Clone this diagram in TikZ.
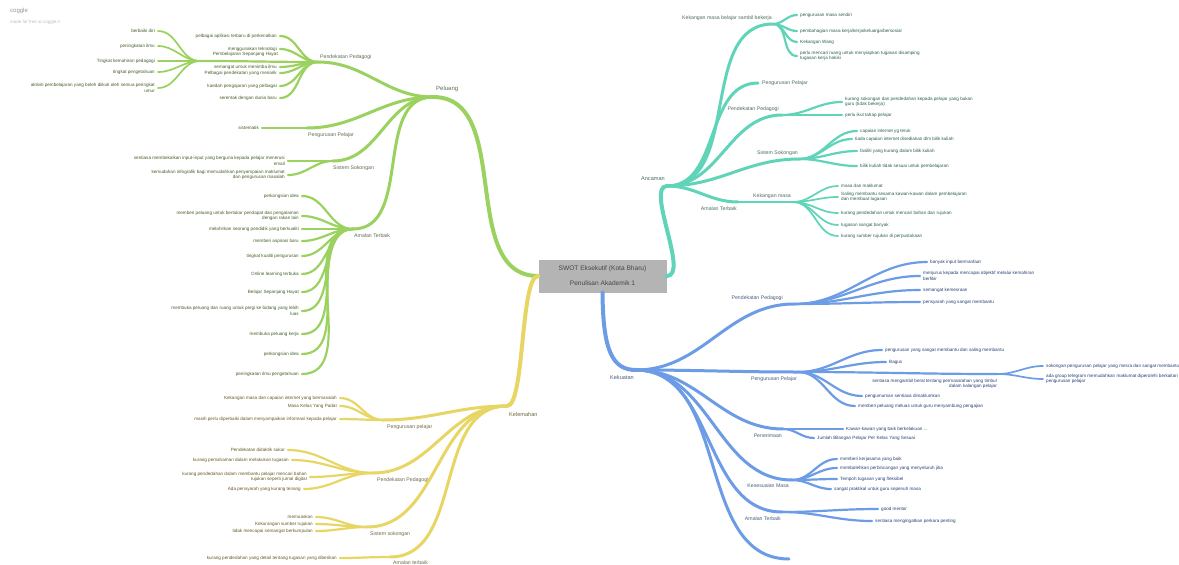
\documentclass[tikz,border=0pt]{standalone}
\usepackage{fontspec}
\setmainfont{Liberation Sans}
\definecolor{cG}{RGB}{155,210,95}
\definecolor{cGt}{RGB}{70,95,40}
\definecolor{cGh}{RGB}{95,110,80}
\definecolor{cY}{RGB}{232,214,100}
\definecolor{cYt}{RGB}{105,90,35}
\definecolor{cYh}{RGB}{115,105,70}
\definecolor{cT}{RGB}{95,212,185}
\definecolor{cTt}{RGB}{45,95,85}
\definecolor{cTh}{RGB}{80,110,100}
\definecolor{cB}{RGB}{108,156,230}
\definecolor{cBt}{RGB}{40,65,120}
\definecolor{cBh}{RGB}{75,95,130}
\definecolor{boxgray}{RGB}{180,180,180}
\tikzset{
  lf/.style={font=\fontsize{4.6}{5.5}\selectfont, inner sep=0pt},
  hl/.style={font=\fontsize{5.2}{6.2}\selectfont, inner sep=0pt},
  b1/.style={line width=4pt, line cap=round},
  b2/.style={line width=3pt, line cap=round},
  b3/.style={line width=2.2pt, line cap=round},
  b4/.style={line width=1.7pt, line cap=round},
  rootbox/.style={fill=boxgray, minimum width=128pt, minimum height=33pt, inner sep=0pt,
    align=center, text={rgb,255:red,70;green,70;blue,70}, font=\fontsize{6.6}{8}\selectfont},
}
\newcommand\LL[7]{%
  \coordinate (#2) at (#3,#4);
  \draw[#7,draw=c#6] (#1) to[out=180,in=0] (#2);
  \node[lf,text=c#6t,anchor=east,align=right] (#2t) at ([xshift=-3pt]#2) {#5};
}
\newcommand\RL[7]{%
  \coordinate (#2) at (#3,#4);
  \draw[#7,draw=c#6] (#1) to[out=0,in=180] (#2);
  \node[lf,text=c#6t,anchor=west,align=left] (#2t) at ([xshift=3pt]#2) {#5};
}
\begin{document}
\begin{tikzpicture}[x=1pt,y=-1pt]
\useasboundingbox (0,0) rectangle (1179,565);
\fill[white] (0,0) rectangle (1179,565);
\node[anchor=west,inner sep=0pt,text={rgb,255:red,150;green,150;blue,150},font=\fontsize{6}{7}\selectfont] (cog) at (10,11) {coggle};
\node[anchor=west,inner sep=0pt,text={rgb,255:red,190;green,190;blue,190},font=\fontsize{4.5}{5}\selectfont] (cogm) at (10,22) {made for free at coggle.it};

\node[rootbox] (root) at (602.5,276) {SWOT Eksekutif (Kota Bharu)\\[7pt]Penulisan Akademik 1};

% ================= GREEN : Peluang =================
\coordinate (gP) at (433,97);
\draw[b1,draw=cG] (root.west) to[out=180,in=0] (gP);
\node[hl,anchor=west,text=cGh,font=\fontsize{6}{7}\selectfont] (gPt) at (436,89) {Peluang};

\coordinate (gPP) at (318,62);
\draw[b2,draw=cG] (gP) to[out=180,in=0] (gPP);
\node[hl,anchor=west,text=cGh] (gPPt) at (320,57) {Pendekatan Pedagogi};
\LL{gPP}{g1}{280}{36}{pelbagai aplikasi terbaru di perkenalkan}{G}{b3}
\LL{gPP}{g2}{280}{49}{menggunakan teknologi}{G}{b3}
\LL{gPP}{g3}{280}{67}{semangat untuk menimba ilmu}{G}{b3}
\LL{gPP}{g4}{280}{73}{Pelbagai pendekatan yang menarik}{G}{b3}
\LL{gPP}{g5}{280}{86}{kaedah pengajaran yang pelbagai}{G}{b3}
\LL{gPP}{g6}{280}{98}{serentak dengan dunia baru}{G}{b3}
\coordinate (gSH) at (200,61);
\draw[b3,draw=cG] (gPP) to[out=180,in=0] (gSH);
\node[lf,anchor=east,text=cGt] (gSHt) at (278,54) {Pembelajaran Sepanjang Hayat};
\LL{gSH}{g7}{158}{31}{berbaiki diri}{G}{b4}
\LL{gSH}{g8}{158}{46}{peningkatan ilmu}{G}{b4}
\LL{gSH}{g9}{158}{61}{Tingkat kemahiran pedagogi}{G}{b4}
\LL{gSH}{g10}{158}{72}{tingkat pengetahuan}{G}{b4}
\LL{gSH}{g11}{158}{88}{aktiviti pembelajaran yang boleh diikuti oleh semua peringkat\\umur}{G}{b4}

\coordinate (gPL) at (307,128);
\draw[b2,draw=cG] (gP) to[out=180,in=0] (gPL);
\node[hl,anchor=west,text=cGh] (gPLt) at (308,135) {Pengurusan Pelajar};
\LL{gPL}{g12}{262}{128}{sistematik}{G}{b3}

\coordinate (gSS) at (333,161);
\draw[b2,draw=cG] (gP) to[out=180,in=0] (gSS);
\node[hl,anchor=west,text=cGh] (gSSt) at (333,168) {Sistem Sokongan};
\LL{gSS}{g13}{288}{161}{sentiasa membekalkan input-input yang berguna kepada pelajar menerusi\\email}{G}{b3}
\LL{gSS}{g14}{288}{175}{kemudahan infografik bagi memudahkan penyampaian maklumat\\dan pengurusan masalah}{G}{b3}

\coordinate (gAT) at (353,229);
\draw[b2,draw=cG] (gP) to[out=180,in=0] (gAT);
\node[hl,anchor=west,text=cGh] (gATt) at (354,236) {Amalan Terbaik};
\LL{gAT}{g15}{302}{196}{perkongsian idea}{G}{b3}
\LL{gAT}{g16}{302}{216}{memberi peluang untuk bertukar pendapat dan pengalaman\\dengan rakan lain}{G}{b3}
\LL{gAT}{g17}{302}{229}{melahirkan seorang pendidik yang berkualiti}{G}{b3}
\LL{gAT}{g18}{302}{241}{memberi aspirasi baru}{G}{b3}
\LL{gAT}{g19}{302}{256}{tingkat kualiti pengurusan}{G}{b3}
\LL{gAT}{g20}{302}{274}{Online learning terbuka}{G}{b3}
\LL{gAT}{g21}{302}{292}{Belajar Sepanjang Hayat}{G}{b3}
\LL{gAT}{g22}{302}{311}{membuka peluang dan ruang untuk pergi ke bidang yang lebih\\luas}{G}{b3}
\LL{gAT}{g23}{302}{334}{membuka peluang kerja}{G}{b3}
\LL{gAT}{g24}{302}{354}{perkongsian idea}{G}{b3}
\LL{gAT}{g25}{302}{374}{peningkatan ilmu pengetahuan}{G}{b3}

% ================= YELLOW : Kelemahan =================
\coordinate (yK) at (507,406);
\draw[b1,draw=cY] (root.west) .. controls (520,276) and (525,406) .. (yK);
\node[hl,anchor=west,text=cYh,font=\fontsize{5.6}{6.6}\selectfont] (yKt) at (509,414) {Kelemahan};

\coordinate (yPP) at (383,420);
\draw[b2,draw=cY] (yK) to[out=180,in=0] (yPP);
\node[hl,anchor=west,text=cYh] (yPPt) at (387,427) {Pengurusan pelajar};
\LL{yPP}{y1}{340}{398}{Kekangan masa dan capaian internet yang bermasalah}{Y}{b3}
\LL{yPP}{y2}{340}{406}{Masa Kelas Yang Padat}{Y}{b3}
\LL{yPP}{y3}{340}{419}{masih perlu diperbaiki dalam menyampaikan informasi kepada pelajar}{Y}{b3}

\coordinate (yPD) at (373,473);
\draw[b2,draw=cY] (yK) to[out=180,in=0] (yPD);
\node[hl,anchor=west,text=cYh] (yPDt) at (377,480) {Pendekatan Pedagogi};
\LL{yPD}{y4}{288}{450}{Pendekatan didaktik sukar}{Y}{b3}
\LL{yPD}{y5}{292}{460}{kurang pemahaman dalam melakukan tugasan}{Y}{b3}
\LL{yPD}{y6}{310}{477}{kurang pendedahan dalam membantu pelajar mencari bahan\\rujukan seperti jurnal digital}{Y}{b3}
\LL{yPD}{y7}{304}{489}{Ada pensyarah yang kurang tenang}{Y}{b3}

\coordinate (ySS) at (367,527);
\draw[b2,draw=cY] (yK) to[out=180,in=0] (ySS);
\node[hl,anchor=west,text=cYh] (ySSt) at (370,534) {Sistem sokongan};
\LL{ySS}{y8}{316}{517}{memuaskan}{Y}{b3}
\LL{ySS}{y9}{316}{524}{Kekurangan sumber rujukan}{Y}{b3}
\LL{ySS}{y10}{316}{531}{tidak mencapai semangat berkumpulan}{Y}{b3}

\coordinate (yAT) at (390,557);
\draw[b2,draw=cY] (yK) to[out=180,in=0] (yAT);
\node[hl,anchor=west,text=cYh] (yATt) at (393,563) {Amalan terbaik};
\LL{yAT}{y11}{340}{558}{kurang pendedahan yang detail tentang tugasan yang diberikan}{Y}{b3}

% ================= TEAL : Ancaman =================
\coordinate (tA) at (667,186);
\draw[b1,draw=cT] (root.east) .. controls (690,276) and (645,186) .. (tA);
\node[hl,anchor=east,text=cTh,font=\fontsize{5.6}{6.6}\selectfont] (tAt) at (665,179) {Ancaman};

\coordinate (tK) at (773,24);
\draw[b2,draw=cT] (tA) to[out=0,in=180] (tK);
\node[hl,anchor=east,text=cTh] (tKt) at (772,18) {Kekangan masa belajar sambil bekerja};
\RL{tK}{t1}{797}{15}{pengurusan masa sendiri}{T}{b3}
\RL{tK}{t2}{797}{31}{pembahagian masa kerja/kerja/keluarga/bersosial}{T}{b3}
\RL{tK}{t3}{797}{42}{Kekangan Wang}{T}{b3}
\RL{tK}{t4}{797}{56}{perlu mencari ruang untuk menyiapkan tugasan disamping\\tugasan kerja hakiki}{T}{b3}

\coordinate (tPL) at (758,83);
\draw[b2,draw=cT] (tA) to[out=0,in=180] (tPL);
\node[hl,anchor=west,text=cTh] (tPLt) at (762,83) {Pengurusan Pelajar};

\coordinate (tPD) at (782,115);
\draw[b2,draw=cT] (tA) to[out=0,in=180] (tPD);
\node[hl,anchor=east,text=cTh] (tPDt) at (779,109) {Pendekatan Pedagogi};
\RL{tPD}{t5}{842}{102}{kurang sokongan dan pendedahan kepada pelajar yang bukan\\guru (tidak bekerja)}{T}{b3}
\RL{tPD}{t6}{842}{115}{perlu ikut tahap pelajar}{T}{b3}

\coordinate (tSS) at (799,159);
\draw[b2,draw=cT] (tA) to[out=0,in=180] (tSS);
\node[hl,anchor=east,text=cTh] (tSSt) at (798,153) {Sistem Sokongan};
\RL{tSS}{t7}{857}{131}{capaian internet yg teruk}{T}{b3}
\RL{tSS}{t8}{852}{139}{tiada capaian internet disediakan dlm bilik kuliah}{T}{b3}
\RL{tSS}{t9}{857}{151}{fasiliti yang kurang dalam bilik kuliah}{T}{b3}
\RL{tSS}{t10}{857}{166}{bilik kuliah tidak sesuai untuk pembelajaran}{T}{b3}

\coordinate (tAT) at (738,202);
\draw[b2,draw=cT] (tA) to[out=0,in=180] (tAT);
\node[hl,anchor=east,text=cTh] (tATt) at (737,209) {Amalan Terbaik};
\coordinate (tKM) at (793,202);
\draw[b3,draw=cT] (tAT) -- (tKM);
\node[hl,anchor=east,text=cTh] (tKMt) at (791,196) {Kekangan masa};
\RL{tKM}{t11}{838}{186}{masa dan maklumat}{T}{b4}
\RL{tKM}{t12}{838}{197}{Saling membantu sesama kawan-kawan dalam pembelajaran\\dan membuat tugasan}{T}{b4}
\RL{tKM}{t13}{838}{213}{kurang pendedahan untuk mencari bahan dan rujukan}{T}{b4}
\RL{tKM}{t14}{838}{225}{tugasan sangat banyak}{T}{b4}
\RL{tKM}{t15}{838}{236}{kurang sumber rujukan di perpustakaan}{T}{b4}

% ================= BLUE : Kekuatan =================
\coordinate (bK) at (636,370);
\draw[b1,draw=cB] (root.south) .. controls (603,350) and (612,370) .. (bK);
\node[hl,anchor=east,text=cBh,font=\fontsize{5.6}{6.6}\selectfont] (bKt) at (634,377) {Kekuatan};

\coordinate (bPD) at (794,304);
\draw[b2,draw=cB] (bK) to[out=0,in=180] (bPD);
\node[hl,anchor=east,text=cBh] (bPDt) at (783,298) {Pendekatan Pedagogi};
\RL{bPD}{b1n}{927}{262}{banyak input bermanfaat}{B}{b3}
\RL{bPD}{b2n}{920}{276}{menjurus kepada mencapai objektif melalui kemahiran\\berfikir}{B}{b3}
\RL{bPD}{b3n}{920}{290}{semangat kemesraan}{B}{b3}
\RL{bPD}{b4n}{920}{302}{pensyarah yang sangat membantu}{B}{b3}

\coordinate (bPL) at (798,372);
\draw[b2,draw=cB] (bK) to[out=0,in=180] (bPL);
\node[hl,anchor=east,text=cBh] (bPLt) at (797,379) {Pengurusan Pelajar};
\RL{bPL}{b5n}{882}{350}{pengurusan yang sangat membantu dan saling membantu}{B}{b3}
\RL{bPL}{b6n}{886}{362}{Bagus}{B}{b3}
\coordinate (bPS) at (998,374);
\draw[b3,draw=cB] (bPL) to[out=0,in=180] (bPS);
\node[lf,anchor=east,align=right,text=cBt] (bPSt) at (997,384) {sentiasa mengambil berat tentang permasalahan yang timbul\\dalam kalangan pelajar};
\RL{bPS}{b7n}{1043}{366}{sokongan pengurusan pelajar yang mesra dan sangat membantu}{B}{b4}
\RL{bPS}{b8n}{1043}{379}{ada group telegram memudahkan maklumat diperolehi berkaitan\\pengurusan pelajar}{B}{b4}
\RL{bPL}{b9n}{862}{396}{pengumuman sentiasa dimaklumkan}{B}{b3}
\RL{bPL}{b10n}{855}{406}{memberi peluang meluas untuk guru menyambung pengajian}{B}{b3}

\coordinate (bPN) at (783,429);
\draw[b2,draw=cB] (bK) to[out=0,in=180] (bPN);
\node[hl,anchor=east,text=cBh] (bPNt) at (782,436) {Penerimaan};
\RL{bPN}{b11n}{843}{429}{Kawan-kawan yang baik berkelakuan ...}{B}{b3}
\RL{bPN}{b12n}{814}{438}{Jumlah Bilangan Pelajar Per Kelas Yang Sesuai}{B}{b3}

\coordinate (bKM) at (792,480);
\draw[b2,draw=cB] (bK) to[out=0,in=180] (bKM);
\node[hl,anchor=east,text=cBh] (bKMt) at (789,486) {Kesesuaian Masa};
\RL{bKM}{b13n}{837}{459}{memberi kerjasama yang baik}{B}{b3}
\RL{bKM}{b14n}{837}{468}{membolehkan perbincangan yang menyeluruh jika}{B}{b3}
\RL{bKM}{b15n}{837}{479}{Tempoh tugasan yang fleksibel}{B}{b3}
\RL{bKM}{b16n}{831}{489}{sangat praktikal untuk guru sepenuh masa}{B}{b3}

\coordinate (bAT) at (782,512);
\draw[b2,draw=cB] (bK) to[out=0,in=180] (bAT);
\node[hl,anchor=east,text=cBh] (bATt) at (781,519) {Amalan Terbaik};
\RL{bAT}{b17n}{878}{509}{good mentor}{B}{b3}
\RL{bAT}{b18n}{872}{521}{sentiasa mengingatkan perkara penting}{B}{b3}

\coordinate (bX) at (789,559);
\draw[b2,draw=cB] (bK) to[out=0,in=180] (bX);
\end{tikzpicture}
\end{document}
